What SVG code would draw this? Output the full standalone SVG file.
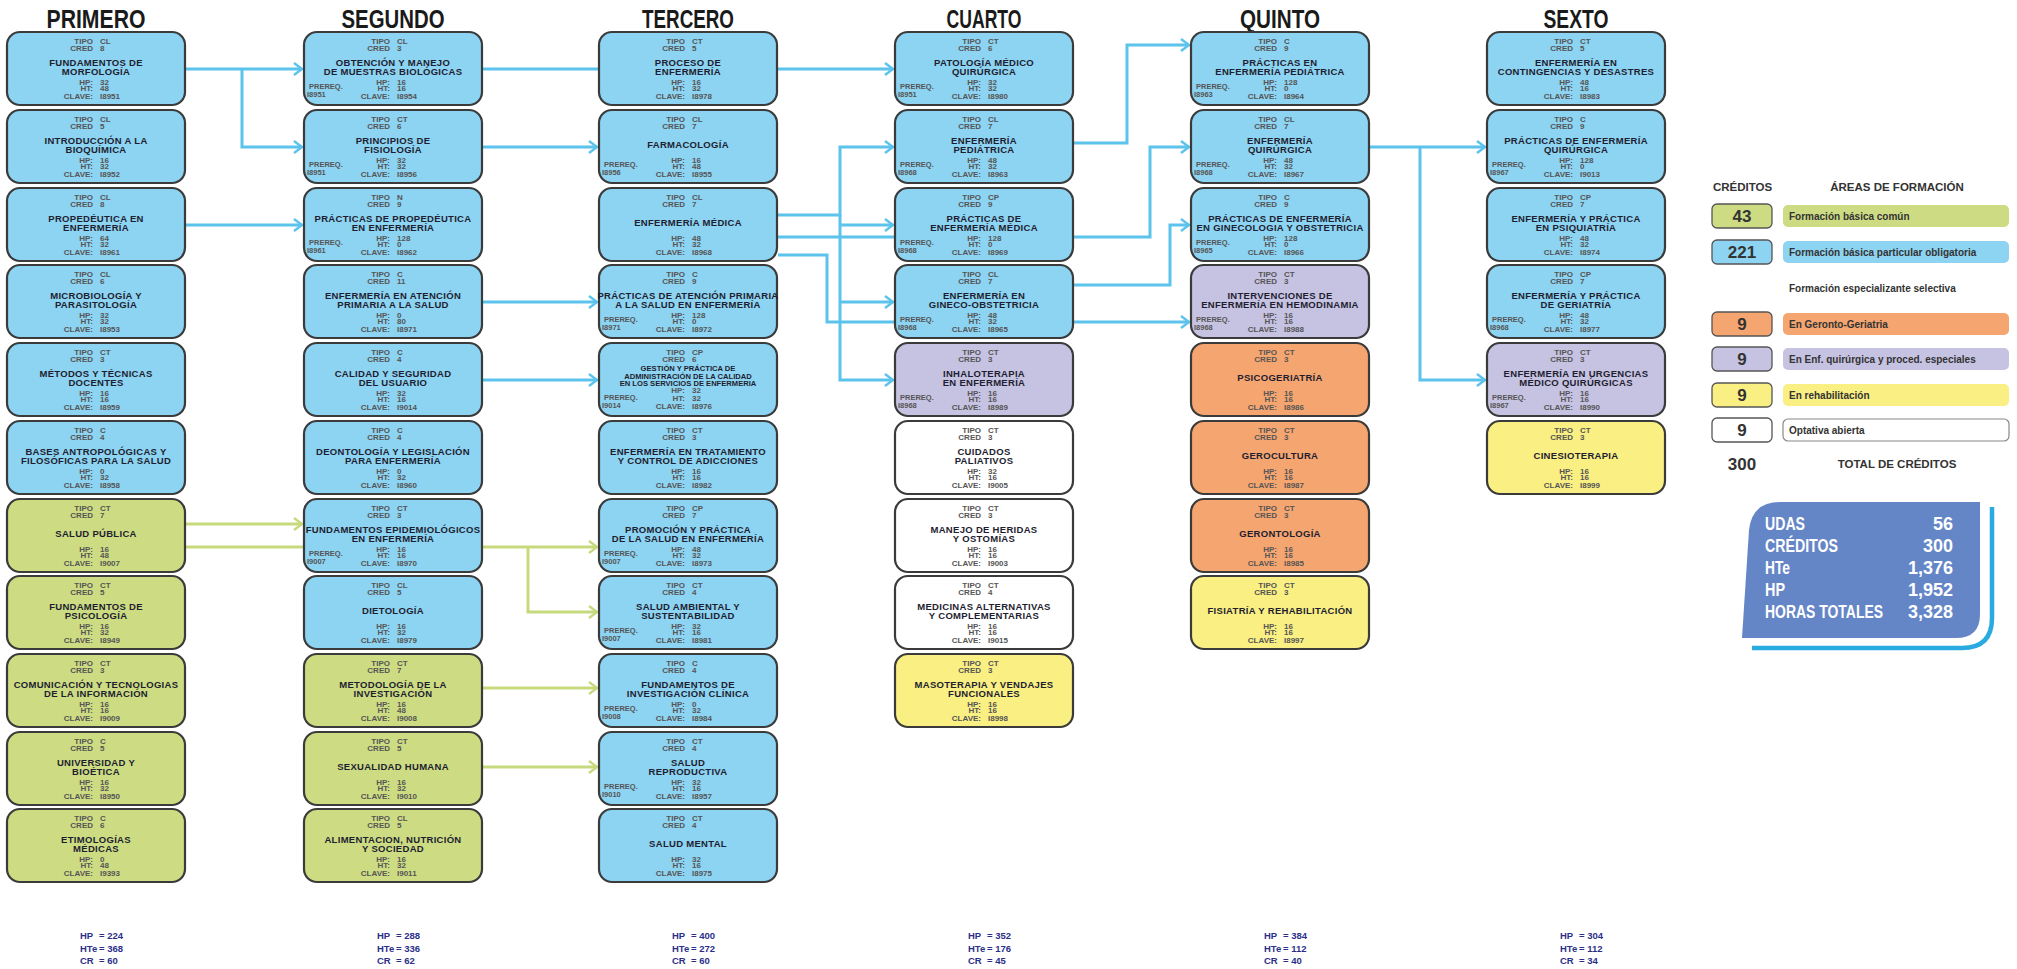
<svg xmlns="http://www.w3.org/2000/svg" width="2017" height="969" viewBox="0 0 2017 969">
<defs>
<style>
.b{stroke:#3b3b3b;stroke-width:2.2}
.bl{fill:#8dd3f2}.gr{fill:#cddc83}.pu{fill:#c6c2e2}.or{fill:#f5a570}.ye{fill:#f9ef83}.wh{fill:#ffffff}
text{font-family:"Liberation Sans",Arial,sans-serif;font-weight:bold}
.l{font-size:8px;fill:#555;text-anchor:end}
.v{font-size:8px;fill:#555}
.t{font-size:9.5px;fill:#1e1e30;text-anchor:middle;letter-spacing:.3px}
.ts{font-size:7.6px;fill:#1e1e30;text-anchor:middle}
.p{font-size:7.5px;fill:#555}
.h{font-family:"Liberation Sans Narrow","Liberation Sans",sans-serif;font-size:26px;fill:#1a1a1a;text-anchor:middle}
.cb{fill:none;stroke:#5bc3ec;stroke-width:3}
.cg{fill:none;stroke:#c6da7d;stroke-width:3}
.tot{font-size:9.5px;fill:#2b2f8a}
.lh{font-size:11.5px;fill:#333}
.lc{font-size:17px;fill:#333;text-anchor:middle}
.la{font-size:10px;fill:#333}
.sm{font-size:18px;fill:#fff}
.smv{font-size:18px;fill:#fff;text-anchor:end}
</style>
<marker id="ab" markerWidth="12" markerHeight="14" refX="10" refY="7" orient="auto" markerUnits="userSpaceOnUse"><path d="M2,1 L10,7 L2,13" fill="none" stroke="#5bc3ec" stroke-width="2.4"/></marker>
<marker id="ag" markerWidth="12" markerHeight="14" refX="10" refY="7" orient="auto" markerUnits="userSpaceOnUse"><path d="M2,1 L10,7 L2,13" fill="none" stroke="#c6da7d" stroke-width="2.4"/></marker>
</defs>
<rect width="2017" height="969" fill="#ffffff"/>

<g id="headers">
<text class="h" x="96" y="28" textLength="99" lengthAdjust="spacingAndGlyphs">PRIMERO</text>
<text class="h" x="393" y="28" textLength="103" lengthAdjust="spacingAndGlyphs">SEGUNDO</text>
<text class="h" x="688" y="28" textLength="92" lengthAdjust="spacingAndGlyphs">TERCERO</text>
<text class="h" x="984" y="28" textLength="75" lengthAdjust="spacingAndGlyphs">CUARTO</text>
<text class="h" x="1280" y="28" textLength="80" lengthAdjust="spacingAndGlyphs">QUINTO</text>
<text class="h" x="1576" y="28" textLength="65" lengthAdjust="spacingAndGlyphs">SEXTO</text>
</g>

<g id="connectors">
<path class="cb" marker-end="url(#ab)" d="M185,69 H302"/>
<path class="cb" marker-end="url(#ab)" d="M482,69 H893"/>
<path class="cb" marker-end="url(#ab)" d="M242,69 V147 H302"/>
<path class="cb" marker-end="url(#ab)" d="M185,225 H302"/>
<path class="cb" marker-end="url(#ab)" d="M482,147 H597"/>
<path class="cb" marker-end="url(#ab)" d="M482,302 H597"/>
<path class="cb" marker-end="url(#ab)" d="M482,380 H597"/>
<path class="cb" marker-end="url(#ab)" d="M778,215 H840 V147 H893"/>
<path class="cb" marker-end="url(#ab)" d="M840,215 V380 H893"/>
<path class="cb" marker-end="url(#ab)" d="M840,225 H893"/>
<path class="cb" marker-end="url(#ab)" d="M840,302 H893"/>
<path class="cb" marker-end="url(#ab)" d="M778,237 H1150 V147 H1189"/>
<path class="cb" marker-end="url(#ab)" d="M778,255 H827 V322 H1189"/>
<path class="cb" marker-end="url(#ab)" d="M1073,143 H1127 V45 H1189"/>
<path class="cb" marker-end="url(#ab)" d="M1073,285 H1170 V225 H1189"/>
<path class="cb" marker-end="url(#ab)" d="M1369,147 H1485"/>
<path class="cb" marker-end="url(#ab)" d="M1420,147 V380 H1485"/>
<path class="cg" marker-end="url(#ag)" d="M185,524 H302"/>
<path class="cg" marker-end="url(#ag)" d="M185,547 H597"/>
<path class="cg" marker-end="url(#ag)" d="M528,547 V612 H597"/>
<path class="cg" marker-end="url(#ag)" d="M482,688 H597"/>
<path class="cg" marker-end="url(#ag)" d="M482,767 H597"/>
</g>

<!-- PRIMERO -->
<g id="p0" transform="translate(7,32)"><rect class="b bl" width="178" height="73" rx="13"/>
<text class="l" x="86" y="11.5">TIPO<tspan x="86" y="19">CRED</tspan></text><text class="v" x="93" y="11.5">CL<tspan x="93" y="19">8</tspan></text>
<text class="t" x="89" y="33.5">FUNDAMENTOS DE<tspan x="89" y="43">MORFOLOGÍA</tspan></text>
<text class="l" x="86" y="52.5">HP:<tspan x="86" y="59">HT:</tspan><tspan x="86" y="67">CLAVE:</tspan></text><text class="v" x="93" y="52.5">32<tspan x="93" y="59">48</tspan><tspan x="93" y="67">I8951</tspan></text></g>
<g id="p1" transform="translate(7,110)"><rect class="b bl" width="178" height="73" rx="13"/>
<text class="l" x="86" y="11.5">TIPO<tspan x="86" y="19">CRED</tspan></text><text class="v" x="93" y="11.5">CL<tspan x="93" y="19">5</tspan></text>
<text class="t" x="89" y="33.5">INTRODUCCIÓN A LA<tspan x="89" y="43">BIOQUÍMICA</tspan></text>
<text class="l" x="86" y="52.5">HP:<tspan x="86" y="59">HT:</tspan><tspan x="86" y="67">CLAVE:</tspan></text><text class="v" x="93" y="52.5">16<tspan x="93" y="59">32</tspan><tspan x="93" y="67">I8952</tspan></text></g>
<g id="p2" transform="translate(7,188)"><rect class="b bl" width="178" height="73" rx="13"/>
<text class="l" x="86" y="11.5">TIPO<tspan x="86" y="19">CRED</tspan></text><text class="v" x="93" y="11.5">CL<tspan x="93" y="19">8</tspan></text>
<text class="t" x="89" y="33.5">PROPEDÉUTICA EN<tspan x="89" y="43">ENFERMERÍA</tspan></text>
<text class="l" x="86" y="52.5">HP:<tspan x="86" y="59">HT:</tspan><tspan x="86" y="67">CLAVE:</tspan></text><text class="v" x="93" y="52.5">64<tspan x="93" y="59">32</tspan><tspan x="93" y="67">I8961</tspan></text></g>
<g id="p3" transform="translate(7,265)"><rect class="b bl" width="178" height="73" rx="13"/>
<text class="l" x="86" y="11.5">TIPO<tspan x="86" y="19">CRED</tspan></text><text class="v" x="93" y="11.5">CL<tspan x="93" y="19">6</tspan></text>
<text class="t" x="89" y="33.5">MICROBIOLOGÍA Y<tspan x="89" y="43">PARASITOLOGÍA</tspan></text>
<text class="l" x="86" y="52.5">HP:<tspan x="86" y="59">HT:</tspan><tspan x="86" y="67">CLAVE:</tspan></text><text class="v" x="93" y="52.5">32<tspan x="93" y="59">32</tspan><tspan x="93" y="67">I8953</tspan></text></g>
<g id="p4" transform="translate(7,343)"><rect class="b bl" width="178" height="73" rx="13"/>
<text class="l" x="86" y="11.5">TIPO<tspan x="86" y="19">CRED</tspan></text><text class="v" x="93" y="11.5">CT<tspan x="93" y="19">3</tspan></text>
<text class="t" x="89" y="33.5">MÉTODOS Y TÉCNICAS<tspan x="89" y="43">DOCENTES</tspan></text>
<text class="l" x="86" y="52.5">HP:<tspan x="86" y="59">HT:</tspan><tspan x="86" y="67">CLAVE:</tspan></text><text class="v" x="93" y="52.5">16<tspan x="93" y="59">16</tspan><tspan x="93" y="67">I8959</tspan></text></g>
<g id="p5" transform="translate(7,421)"><rect class="b bl" width="178" height="73" rx="13"/>
<text class="l" x="86" y="11.5">TIPO<tspan x="86" y="19">CRED</tspan></text><text class="v" x="93" y="11.5">C<tspan x="93" y="19">4</tspan></text>
<text class="t" x="89" y="33.5">BASES ANTROPOLÓGICAS Y<tspan x="89" y="43">FILOSÓFICAS PARA LA SALUD</tspan></text>
<text class="l" x="86" y="52.5">HP:<tspan x="86" y="59">HT:</tspan><tspan x="86" y="67">CLAVE:</tspan></text><text class="v" x="93" y="52.5">0<tspan x="93" y="59">32</tspan><tspan x="93" y="67">I8958</tspan></text></g>
<g id="p6" transform="translate(7,499)"><rect class="b gr" width="178" height="73" rx="13"/>
<text class="l" x="86" y="11.5">TIPO<tspan x="86" y="19">CRED</tspan></text><text class="v" x="93" y="11.5">CT<tspan x="93" y="19">7</tspan></text>
<text class="t" x="89" y="38">SALUD PÚBLICA</text>
<text class="l" x="86" y="52.5">HP:<tspan x="86" y="59">HT:</tspan><tspan x="86" y="67">CLAVE:</tspan></text><text class="v" x="93" y="52.5">16<tspan x="93" y="59">48</tspan><tspan x="93" y="67">I9007</tspan></text></g>
<g id="p7" transform="translate(7,576)"><rect class="b gr" width="178" height="73" rx="13"/>
<text class="l" x="86" y="11.5">TIPO<tspan x="86" y="19">CRED</tspan></text><text class="v" x="93" y="11.5">CT<tspan x="93" y="19">5</tspan></text>
<text class="t" x="89" y="33.5">FUNDAMENTOS DE<tspan x="89" y="43">PSICOLOGÍA</tspan></text>
<text class="l" x="86" y="52.5">HP:<tspan x="86" y="59">HT:</tspan><tspan x="86" y="67">CLAVE:</tspan></text><text class="v" x="93" y="52.5">16<tspan x="93" y="59">32</tspan><tspan x="93" y="67">I8949</tspan></text></g>
<g id="p8" transform="translate(7,654)"><rect class="b gr" width="178" height="73" rx="13"/>
<text class="l" x="86" y="11.5">TIPO<tspan x="86" y="19">CRED</tspan></text><text class="v" x="93" y="11.5">CT<tspan x="93" y="19">3</tspan></text>
<text class="t" x="89" y="33.5">COMUNICACIÓN Y TECNOLOGIAS<tspan x="89" y="43">DE LA INFORMACIÓN</tspan></text>
<text class="l" x="86" y="52.5">HP:<tspan x="86" y="59">HT:</tspan><tspan x="86" y="67">CLAVE:</tspan></text><text class="v" x="93" y="52.5">16<tspan x="93" y="59">16</tspan><tspan x="93" y="67">I9009</tspan></text></g>
<g id="p9" transform="translate(7,732)"><rect class="b gr" width="178" height="73" rx="13"/>
<text class="l" x="86" y="11.5">TIPO<tspan x="86" y="19">CRED</tspan></text><text class="v" x="93" y="11.5">C<tspan x="93" y="19">5</tspan></text>
<text class="t" x="89" y="33.5">UNIVERSIDAD Y<tspan x="89" y="43">BIOÉTICA</tspan></text>
<text class="l" x="86" y="52.5">HP:<tspan x="86" y="59">HT:</tspan><tspan x="86" y="67">CLAVE:</tspan></text><text class="v" x="93" y="52.5">16<tspan x="93" y="59">32</tspan><tspan x="93" y="67">I8950</tspan></text></g>
<g id="p10" transform="translate(7,809)"><rect class="b gr" width="178" height="73" rx="13"/>
<text class="l" x="86" y="11.5">TIPO<tspan x="86" y="19">CRED</tspan></text><text class="v" x="93" y="11.5">C<tspan x="93" y="19">6</tspan></text>
<text class="t" x="89" y="33.5">ETIMOLOGÍAS<tspan x="89" y="43">MÉDICAS</tspan></text>
<text class="l" x="86" y="52.5">HP:<tspan x="86" y="59">HT:</tspan><tspan x="86" y="67">CLAVE:</tspan></text><text class="v" x="93" y="52.5">0<tspan x="93" y="59">48</tspan><tspan x="93" y="67">I9393</tspan></text></g>

<!-- SEGUNDO -->
<g id="s0" transform="translate(304,32)"><rect class="b bl" width="178" height="73" rx="13"/>
<text class="l" x="86" y="11.5">TIPO<tspan x="86" y="19">CRED</tspan></text><text class="v" x="93" y="11.5">CL<tspan x="93" y="19">3</tspan></text>
<text class="t" x="89" y="33.5">OBTENCIÓN Y MANEJO<tspan x="89" y="43">DE MUESTRAS BIOLÓGICAS</tspan></text>
<text class="p" x="5" y="57">PREREQ.<tspan x="3" y="64.5">I8951</tspan></text>
<text class="l" x="86" y="52.5">HP:<tspan x="86" y="59">HT:</tspan><tspan x="86" y="67">CLAVE:</tspan></text><text class="v" x="93" y="52.5">16<tspan x="93" y="59">16</tspan><tspan x="93" y="67">I8954</tspan></text></g>
<g id="s1" transform="translate(304,110)"><rect class="b bl" width="178" height="73" rx="13"/>
<text class="l" x="86" y="11.5">TIPO<tspan x="86" y="19">CRED</tspan></text><text class="v" x="93" y="11.5">CT<tspan x="93" y="19">6</tspan></text>
<text class="t" x="89" y="33.5">PRINCIPIOS DE<tspan x="89" y="43">FISIOLOGÍA</tspan></text>
<text class="p" x="5" y="57">PREREQ.<tspan x="3" y="64.5">I8951</tspan></text>
<text class="l" x="86" y="52.5">HP:<tspan x="86" y="59">HT:</tspan><tspan x="86" y="67">CLAVE:</tspan></text><text class="v" x="93" y="52.5">32<tspan x="93" y="59">32</tspan><tspan x="93" y="67">I8956</tspan></text></g>
<g id="s2" transform="translate(304,188)"><rect class="b bl" width="178" height="73" rx="13"/>
<text class="l" x="86" y="11.5">TIPO<tspan x="86" y="19">CRED</tspan></text><text class="v" x="93" y="11.5">N<tspan x="93" y="19">9</tspan></text>
<text class="t" x="89" y="33.5">PRÁCTICAS DE PROPEDÉUTICA<tspan x="89" y="43">EN ENFERMERÍA</tspan></text>
<text class="p" x="5" y="57">PREREQ.<tspan x="3" y="64.5">I8961</tspan></text>
<text class="l" x="86" y="52.5">HP:<tspan x="86" y="59">HT:</tspan><tspan x="86" y="67">CLAVE:</tspan></text><text class="v" x="93" y="52.5">128<tspan x="93" y="59">0</tspan><tspan x="93" y="67">I8962</tspan></text></g>
<g id="s3" transform="translate(304,265)"><rect class="b bl" width="178" height="73" rx="13"/>
<text class="l" x="86" y="11.5">TIPO<tspan x="86" y="19">CRED</tspan></text><text class="v" x="93" y="11.5">C<tspan x="93" y="19">11</tspan></text>
<text class="t" x="89" y="33.5">ENFERMERÍA EN ATENCIÓN<tspan x="89" y="43">PRIMARIA A LA SALUD</tspan></text>
<text class="l" x="86" y="52.5">HP:<tspan x="86" y="59">HT:</tspan><tspan x="86" y="67">CLAVE:</tspan></text><text class="v" x="93" y="52.5">0<tspan x="93" y="59">80</tspan><tspan x="93" y="67">I8971</tspan></text></g>
<g id="s4" transform="translate(304,343)"><rect class="b bl" width="178" height="73" rx="13"/>
<text class="l" x="86" y="11.5">TIPO<tspan x="86" y="19">CRED</tspan></text><text class="v" x="93" y="11.5">C<tspan x="93" y="19">4</tspan></text>
<text class="t" x="89" y="33.5">CALIDAD Y SEGURIDAD<tspan x="89" y="43">DEL USUARIO</tspan></text>
<text class="l" x="86" y="52.5">HP:<tspan x="86" y="59">HT:</tspan><tspan x="86" y="67">CLAVE:</tspan></text><text class="v" x="93" y="52.5">32<tspan x="93" y="59">16</tspan><tspan x="93" y="67">I9014</tspan></text></g>
<g id="s5" transform="translate(304,421)"><rect class="b bl" width="178" height="73" rx="13"/>
<text class="l" x="86" y="11.5">TIPO<tspan x="86" y="19">CRED</tspan></text><text class="v" x="93" y="11.5">C<tspan x="93" y="19">4</tspan></text>
<text class="t" x="89" y="33.5">DEONTOLOGÍA Y LEGISLACIÓN<tspan x="89" y="43">PARA ENFERMERÍA</tspan></text>
<text class="l" x="86" y="52.5">HP:<tspan x="86" y="59">HT:</tspan><tspan x="86" y="67">CLAVE:</tspan></text><text class="v" x="93" y="52.5">0<tspan x="93" y="59">32</tspan><tspan x="93" y="67">I8960</tspan></text></g>
<g id="s6" transform="translate(304,499)"><rect class="b bl" width="178" height="73" rx="13"/>
<text class="l" x="86" y="11.5">TIPO<tspan x="86" y="19">CRED</tspan></text><text class="v" x="93" y="11.5">CT<tspan x="93" y="19">3</tspan></text>
<text class="t" x="89" y="33.5">FUNDAMENTOS EPIDEMIOLÓGICOS<tspan x="89" y="43">EN ENFERMERÍA</tspan></text>
<text class="p" x="5" y="57">PREREQ.<tspan x="3" y="64.5">I9007</tspan></text>
<text class="l" x="86" y="52.5">HP:<tspan x="86" y="59">HT:</tspan><tspan x="86" y="67">CLAVE:</tspan></text><text class="v" x="93" y="52.5">16<tspan x="93" y="59">16</tspan><tspan x="93" y="67">I8970</tspan></text></g>
<g id="s7" transform="translate(304,576)"><rect class="b bl" width="178" height="73" rx="13"/>
<text class="l" x="86" y="11.5">TIPO<tspan x="86" y="19">CRED</tspan></text><text class="v" x="93" y="11.5">CL<tspan x="93" y="19">5</tspan></text>
<text class="t" x="89" y="38">DIETOLOGÍA</text>
<text class="l" x="86" y="52.5">HP:<tspan x="86" y="59">HT:</tspan><tspan x="86" y="67">CLAVE:</tspan></text><text class="v" x="93" y="52.5">16<tspan x="93" y="59">32</tspan><tspan x="93" y="67">I8979</tspan></text></g>
<g id="s8" transform="translate(304,654)"><rect class="b gr" width="178" height="73" rx="13"/>
<text class="l" x="86" y="11.5">TIPO<tspan x="86" y="19">CRED</tspan></text><text class="v" x="93" y="11.5">CT<tspan x="93" y="19">7</tspan></text>
<text class="t" x="89" y="33.5">METODOLOGÍA DE LA<tspan x="89" y="43">INVESTIGACIÓN</tspan></text>
<text class="l" x="86" y="52.5">HP:<tspan x="86" y="59">HT:</tspan><tspan x="86" y="67">CLAVE:</tspan></text><text class="v" x="93" y="52.5">16<tspan x="93" y="59">48</tspan><tspan x="93" y="67">I9008</tspan></text></g>
<g id="s9" transform="translate(304,732)"><rect class="b gr" width="178" height="73" rx="13"/>
<text class="l" x="86" y="11.5">TIPO<tspan x="86" y="19">CRED</tspan></text><text class="v" x="93" y="11.5">CT<tspan x="93" y="19">5</tspan></text>
<text class="t" x="89" y="38">SEXUALIDAD HUMANA</text>
<text class="l" x="86" y="52.5">HP:<tspan x="86" y="59">HT:</tspan><tspan x="86" y="67">CLAVE:</tspan></text><text class="v" x="93" y="52.5">16<tspan x="93" y="59">32</tspan><tspan x="93" y="67">I9010</tspan></text></g>
<g id="s10" transform="translate(304,809)"><rect class="b gr" width="178" height="73" rx="13"/>
<text class="l" x="86" y="11.5">TIPO<tspan x="86" y="19">CRED</tspan></text><text class="v" x="93" y="11.5">CL<tspan x="93" y="19">5</tspan></text>
<text class="t" x="89" y="33.5">ALIMENTACION, NUTRICIÓN<tspan x="89" y="43">Y SOCIEDAD</tspan></text>
<text class="l" x="86" y="52.5">HP:<tspan x="86" y="59">HT:</tspan><tspan x="86" y="67">CLAVE:</tspan></text><text class="v" x="93" y="52.5">16<tspan x="93" y="59">32</tspan><tspan x="93" y="67">I9011</tspan></text></g>

<!-- TERCERO -->
<g id="t0" transform="translate(599,32)"><rect class="b bl" width="178" height="73" rx="13"/>
<text class="l" x="86" y="11.5">TIPO<tspan x="86" y="19">CRED</tspan></text><text class="v" x="93" y="11.5">CT<tspan x="93" y="19">5</tspan></text>
<text class="t" x="89" y="33.5">PROCESO DE<tspan x="89" y="43">ENFERMERÍA</tspan></text>
<text class="l" x="86" y="52.5">HP:<tspan x="86" y="59">HT:</tspan><tspan x="86" y="67">CLAVE:</tspan></text><text class="v" x="93" y="52.5">16<tspan x="93" y="59">32</tspan><tspan x="93" y="67">I8978</tspan></text></g>
<g id="t1" transform="translate(599,110)"><rect class="b bl" width="178" height="73" rx="13"/>
<text class="l" x="86" y="11.5">TIPO<tspan x="86" y="19">CRED</tspan></text><text class="v" x="93" y="11.5">CL<tspan x="93" y="19">7</tspan></text>
<text class="t" x="89" y="38">FARMACOLOGÍA</text>
<text class="p" x="5" y="57">PREREQ.<tspan x="3" y="64.5">I8956</tspan></text>
<text class="l" x="86" y="52.5">HP:<tspan x="86" y="59">HT:</tspan><tspan x="86" y="67">CLAVE:</tspan></text><text class="v" x="93" y="52.5">16<tspan x="93" y="59">48</tspan><tspan x="93" y="67">I8955</tspan></text></g>
<g id="t2" transform="translate(599,188)"><rect class="b bl" width="178" height="73" rx="13"/>
<text class="l" x="86" y="11.5">TIPO<tspan x="86" y="19">CRED</tspan></text><text class="v" x="93" y="11.5">CL<tspan x="93" y="19">7</tspan></text>
<text class="t" x="89" y="38">ENFERMERÍA MÉDICA</text>
<text class="l" x="86" y="52.5">HP:<tspan x="86" y="59">HT:</tspan><tspan x="86" y="67">CLAVE:</tspan></text><text class="v" x="93" y="52.5">48<tspan x="93" y="59">32</tspan><tspan x="93" y="67">I8968</tspan></text></g>
<g id="t3" transform="translate(599,265)"><rect class="b bl" width="178" height="73" rx="13"/>
<text class="l" x="86" y="11.5">TIPO<tspan x="86" y="19">CRED</tspan></text><text class="v" x="93" y="11.5">C<tspan x="93" y="19">9</tspan></text>
<text class="t" x="89" y="33.5">PRÁCTICAS DE ATENCIÓN PRIMARIA<tspan x="89" y="43">A LA SALUD EN ENFERMERÍA</tspan></text>
<text class="p" x="5" y="57">PREREQ.<tspan x="3" y="64.5">I8971</tspan></text>
<text class="l" x="86" y="52.5">HP:<tspan x="86" y="59">HT:</tspan><tspan x="86" y="67">CLAVE:</tspan></text><text class="v" x="93" y="52.5">128<tspan x="93" y="59">0</tspan><tspan x="93" y="67">I8972</tspan></text></g>
<g id="t4" transform="translate(599,343)"><rect class="b bl" width="178" height="73" rx="13"/>
<text class="l" x="86" y="11.5">TIPO<tspan x="86" y="19">CRED</tspan></text><text class="v" x="93" y="11.5">CP<tspan x="93" y="19">6</tspan></text>
<text class="ts" x="89" y="28">GESTIÓN Y PRÁCTICA DE<tspan x="89" y="35.5">ADMINISTRACIÓN DE LA CALIDAD</tspan><tspan x="89" y="43">EN LOS SERVICIOS DE ENFERMERIA</tspan></text>
<text class="p" x="5" y="57">PREREQ.<tspan x="3" y="64.5">I9014</tspan></text>
<text class="l" x="86" y="50">HP:<tspan x="86" y="57.5">HT:</tspan><tspan x="86" y="66">CLAVE:</tspan></text><text class="v" x="93" y="50">32<tspan x="93" y="57.5">32</tspan><tspan x="93" y="66">I8976</tspan></text></g>
<g id="t5" transform="translate(599,421)"><rect class="b bl" width="178" height="73" rx="13"/>
<text class="l" x="86" y="11.5">TIPO<tspan x="86" y="19">CRED</tspan></text><text class="v" x="93" y="11.5">CT<tspan x="93" y="19">3</tspan></text>
<text class="t" x="89" y="33.5">ENFERMERÍA EN TRATAMIENTO<tspan x="89" y="43">Y CONTROL DE ADICCIONES</tspan></text>
<text class="l" x="86" y="52.5">HP:<tspan x="86" y="59">HT:</tspan><tspan x="86" y="67">CLAVE:</tspan></text><text class="v" x="93" y="52.5">16<tspan x="93" y="59">16</tspan><tspan x="93" y="67">I8982</tspan></text></g>
<g id="t6" transform="translate(599,499)"><rect class="b bl" width="178" height="73" rx="13"/>
<text class="l" x="86" y="11.5">TIPO<tspan x="86" y="19">CRED</tspan></text><text class="v" x="93" y="11.5">CP<tspan x="93" y="19">7</tspan></text>
<text class="t" x="89" y="33.5">PROMOCIÓN Y PRÁCTICA<tspan x="89" y="43">DE LA SALUD EN ENFERMERÍA</tspan></text>
<text class="p" x="5" y="57">PREREQ.<tspan x="3" y="64.5">I9007</tspan></text>
<text class="l" x="86" y="52.5">HP:<tspan x="86" y="59">HT:</tspan><tspan x="86" y="67">CLAVE:</tspan></text><text class="v" x="93" y="52.5">48<tspan x="93" y="59">32</tspan><tspan x="93" y="67">I8973</tspan></text></g>
<g id="t7" transform="translate(599,576)"><rect class="b bl" width="178" height="73" rx="13"/>
<text class="l" x="86" y="11.5">TIPO<tspan x="86" y="19">CRED</tspan></text><text class="v" x="93" y="11.5">CT<tspan x="93" y="19">4</tspan></text>
<text class="t" x="89" y="33.5">SALUD AMBIENTAL Y<tspan x="89" y="43">SUSTENTABILIDAD</tspan></text>
<text class="p" x="5" y="57">PREREQ.<tspan x="3" y="64.5">I9007</tspan></text>
<text class="l" x="86" y="52.5">HP:<tspan x="86" y="59">HT:</tspan><tspan x="86" y="67">CLAVE:</tspan></text><text class="v" x="93" y="52.5">32<tspan x="93" y="59">16</tspan><tspan x="93" y="67">I8981</tspan></text></g>
<g id="t8" transform="translate(599,654)"><rect class="b bl" width="178" height="73" rx="13"/>
<text class="l" x="86" y="11.5">TIPO<tspan x="86" y="19">CRED</tspan></text><text class="v" x="93" y="11.5">C<tspan x="93" y="19">4</tspan></text>
<text class="t" x="89" y="33.5">FUNDAMENTOS DE<tspan x="89" y="43">INVESTIGACIÓN CLÍNICA</tspan></text>
<text class="p" x="5" y="57">PREREQ.<tspan x="3" y="64.5">I9008</tspan></text>
<text class="l" x="86" y="52.5">HP:<tspan x="86" y="59">HT:</tspan><tspan x="86" y="67">CLAVE:</tspan></text><text class="v" x="93" y="52.5">0<tspan x="93" y="59">32</tspan><tspan x="93" y="67">I8984</tspan></text></g>
<g id="t9" transform="translate(599,732)"><rect class="b bl" width="178" height="73" rx="13"/>
<text class="l" x="86" y="11.5">TIPO<tspan x="86" y="19">CRED</tspan></text><text class="v" x="93" y="11.5">CT<tspan x="93" y="19">4</tspan></text>
<text class="t" x="89" y="33.5">SALUD<tspan x="89" y="43">REPRODUCTIVA</tspan></text>
<text class="p" x="5" y="57">PREREQ.<tspan x="3" y="64.5">I9010</tspan></text>
<text class="l" x="86" y="52.5">HP:<tspan x="86" y="59">HT:</tspan><tspan x="86" y="67">CLAVE:</tspan></text><text class="v" x="93" y="52.5">32<tspan x="93" y="59">16</tspan><tspan x="93" y="67">I8957</tspan></text></g>
<g id="t10" transform="translate(599,809)"><rect class="b bl" width="178" height="73" rx="13"/>
<text class="l" x="86" y="11.5">TIPO<tspan x="86" y="19">CRED</tspan></text><text class="v" x="93" y="11.5">CT<tspan x="93" y="19">4</tspan></text>
<text class="t" x="89" y="38">SALUD MENTAL</text>
<text class="l" x="86" y="52.5">HP:<tspan x="86" y="59">HT:</tspan><tspan x="86" y="67">CLAVE:</tspan></text><text class="v" x="93" y="52.5">32<tspan x="93" y="59">16</tspan><tspan x="93" y="67">I8975</tspan></text></g>

<!-- CUARTO -->
<g id="c0" transform="translate(895,32)"><rect class="b bl" width="178" height="73" rx="13"/>
<text class="l" x="86" y="11.5">TIPO<tspan x="86" y="19">CRED</tspan></text><text class="v" x="93" y="11.5">CT<tspan x="93" y="19">6</tspan></text>
<text class="t" x="89" y="33.5">PATOLOGÍA MÉDICO<tspan x="89" y="43">QUIRÚRGICA</tspan></text>
<text class="p" x="5" y="57">PREREQ.<tspan x="3" y="64.5">I8951</tspan></text>
<text class="l" x="86" y="52.5">HP:<tspan x="86" y="59">HT:</tspan><tspan x="86" y="67">CLAVE:</tspan></text><text class="v" x="93" y="52.5">32<tspan x="93" y="59">32</tspan><tspan x="93" y="67">I8980</tspan></text></g>
<g id="c1" transform="translate(895,110)"><rect class="b bl" width="178" height="73" rx="13"/>
<text class="l" x="86" y="11.5">TIPO<tspan x="86" y="19">CRED</tspan></text><text class="v" x="93" y="11.5">CL<tspan x="93" y="19">7</tspan></text>
<text class="t" x="89" y="33.5">ENFERMERÍA<tspan x="89" y="43">PEDIÁTRICA</tspan></text>
<text class="p" x="5" y="57">PREREQ.<tspan x="3" y="64.5">I8968</tspan></text>
<text class="l" x="86" y="52.5">HP:<tspan x="86" y="59">HT:</tspan><tspan x="86" y="67">CLAVE:</tspan></text><text class="v" x="93" y="52.5">48<tspan x="93" y="59">32</tspan><tspan x="93" y="67">I8963</tspan></text></g>
<g id="c2" transform="translate(895,188)"><rect class="b bl" width="178" height="73" rx="13"/>
<text class="l" x="86" y="11.5">TIPO<tspan x="86" y="19">CRED</tspan></text><text class="v" x="93" y="11.5">CP<tspan x="93" y="19">9</tspan></text>
<text class="t" x="89" y="33.5">PRÁCTICAS DE<tspan x="89" y="43">ENFERMERÍA MÉDICA</tspan></text>
<text class="p" x="5" y="57">PREREQ.<tspan x="3" y="64.5">I8968</tspan></text>
<text class="l" x="86" y="52.5">HP:<tspan x="86" y="59">HT:</tspan><tspan x="86" y="67">CLAVE:</tspan></text><text class="v" x="93" y="52.5">128<tspan x="93" y="59">0</tspan><tspan x="93" y="67">I8969</tspan></text></g>
<g id="c3" transform="translate(895,265)"><rect class="b bl" width="178" height="73" rx="13"/>
<text class="l" x="86" y="11.5">TIPO<tspan x="86" y="19">CRED</tspan></text><text class="v" x="93" y="11.5">CL<tspan x="93" y="19">7</tspan></text>
<text class="t" x="89" y="33.5">ENFERMERÍA EN<tspan x="89" y="43">GINECO-OBSTETRICIA</tspan></text>
<text class="p" x="5" y="57">PREREQ.<tspan x="3" y="64.5">I8968</tspan></text>
<text class="l" x="86" y="52.5">HP:<tspan x="86" y="59">HT:</tspan><tspan x="86" y="67">CLAVE:</tspan></text><text class="v" x="93" y="52.5">48<tspan x="93" y="59">32</tspan><tspan x="93" y="67">I8965</tspan></text></g>
<g id="c4" transform="translate(895,343)"><rect class="b pu" width="178" height="73" rx="13"/>
<text class="l" x="86" y="11.5">TIPO<tspan x="86" y="19">CRED</tspan></text><text class="v" x="93" y="11.5">CT<tspan x="93" y="19">3</tspan></text>
<text class="t" x="89" y="33.5">INHALOTERAPIA<tspan x="89" y="43">EN ENFERMERÍA</tspan></text>
<text class="p" x="5" y="57">PREREQ.<tspan x="3" y="64.5">I8968</tspan></text>
<text class="l" x="86" y="52.5">HP:<tspan x="86" y="59">HT:</tspan><tspan x="86" y="67">CLAVE:</tspan></text><text class="v" x="93" y="52.5">16<tspan x="93" y="59">16</tspan><tspan x="93" y="67">I8989</tspan></text></g>
<g id="c5" transform="translate(895,421)"><rect class="b wh" width="178" height="73" rx="13"/>
<text class="l" x="86" y="11.5">TIPO<tspan x="86" y="19">CRED</tspan></text><text class="v" x="93" y="11.5">CT<tspan x="93" y="19">3</tspan></text>
<text class="t" x="89" y="33.5">CUIDADOS<tspan x="89" y="43">PALIATIVOS</tspan></text>
<text class="l" x="86" y="52.5">HP:<tspan x="86" y="59">HT:</tspan><tspan x="86" y="67">CLAVE:</tspan></text><text class="v" x="93" y="52.5">32<tspan x="93" y="59">16</tspan><tspan x="93" y="67">I9005</tspan></text></g>
<g id="c6" transform="translate(895,499)"><rect class="b wh" width="178" height="73" rx="13"/>
<text class="l" x="86" y="11.5">TIPO<tspan x="86" y="19">CRED</tspan></text><text class="v" x="93" y="11.5">CT<tspan x="93" y="19">3</tspan></text>
<text class="t" x="89" y="33.5">MANEJO DE HERIDAS<tspan x="89" y="43">Y OSTOMÍAS</tspan></text>
<text class="l" x="86" y="52.5">HP:<tspan x="86" y="59">HT:</tspan><tspan x="86" y="67">CLAVE:</tspan></text><text class="v" x="93" y="52.5">16<tspan x="93" y="59">16</tspan><tspan x="93" y="67">I9003</tspan></text></g>
<g id="c7" transform="translate(895,576)"><rect class="b wh" width="178" height="73" rx="13"/>
<text class="l" x="86" y="11.5">TIPO<tspan x="86" y="19">CRED</tspan></text><text class="v" x="93" y="11.5">CT<tspan x="93" y="19">4</tspan></text>
<text class="t" x="89" y="33.5">MEDICINAS ALTERNATIVAS<tspan x="89" y="43">Y COMPLEMENTARIAS</tspan></text>
<text class="l" x="86" y="52.5">HP:<tspan x="86" y="59">HT:</tspan><tspan x="86" y="67">CLAVE:</tspan></text><text class="v" x="93" y="52.5">16<tspan x="93" y="59">16</tspan><tspan x="93" y="67">I9015</tspan></text></g>
<g id="c8" transform="translate(895,654)"><rect class="b ye" width="178" height="73" rx="13"/>
<text class="l" x="86" y="11.5">TIPO<tspan x="86" y="19">CRED</tspan></text><text class="v" x="93" y="11.5">CT<tspan x="93" y="19">3</tspan></text>
<text class="t" x="89" y="33.5">MASOTERAPIA Y VENDAJES<tspan x="89" y="43">FUNCIONALES</tspan></text>
<text class="l" x="86" y="52.5">HP:<tspan x="86" y="59">HT:</tspan><tspan x="86" y="67">CLAVE:</tspan></text><text class="v" x="93" y="52.5">16<tspan x="93" y="59">16</tspan><tspan x="93" y="67">I8998</tspan></text></g>

<!-- QUINTO -->
<g id="q0" transform="translate(1191,32)"><rect class="b bl" width="178" height="73" rx="13"/>
<text class="l" x="86" y="11.5">TIPO<tspan x="86" y="19">CRED</tspan></text><text class="v" x="93" y="11.5">C<tspan x="93" y="19">9</tspan></text>
<text class="t" x="89" y="33.5">PRÁCTICAS EN<tspan x="89" y="43">ENFERMERÍA PEDIÁTRICA</tspan></text>
<text class="p" x="5" y="57">PREREQ.<tspan x="3" y="64.5">I8963</tspan></text>
<text class="l" x="86" y="52.5">HP:<tspan x="86" y="59">HT:</tspan><tspan x="86" y="67">CLAVE:</tspan></text><text class="v" x="93" y="52.5">128<tspan x="93" y="59">0</tspan><tspan x="93" y="67">I8964</tspan></text></g>
<g id="q1" transform="translate(1191,110)"><rect class="b bl" width="178" height="73" rx="13"/>
<text class="l" x="86" y="11.5">TIPO<tspan x="86" y="19">CRED</tspan></text><text class="v" x="93" y="11.5">CL<tspan x="93" y="19">7</tspan></text>
<text class="t" x="89" y="33.5">ENFERMERÍA<tspan x="89" y="43">QUIRÚRGICA</tspan></text>
<text class="p" x="5" y="57">PREREQ.<tspan x="3" y="64.5">I8968</tspan></text>
<text class="l" x="86" y="52.5">HP:<tspan x="86" y="59">HT:</tspan><tspan x="86" y="67">CLAVE:</tspan></text><text class="v" x="93" y="52.5">48<tspan x="93" y="59">32</tspan><tspan x="93" y="67">I8967</tspan></text></g>
<g id="q2" transform="translate(1191,188)"><rect class="b bl" width="178" height="73" rx="13"/>
<text class="l" x="86" y="11.5">TIPO<tspan x="86" y="19">CRED</tspan></text><text class="v" x="93" y="11.5">C<tspan x="93" y="19">9</tspan></text>
<text class="t" x="89" y="33.5">PRÁCTICAS DE ENFERMERÍA<tspan x="89" y="43">EN GINECOLOGIA Y OBSTETRICIA</tspan></text>
<text class="p" x="5" y="57">PREREQ.<tspan x="3" y="64.5">I8965</tspan></text>
<text class="l" x="86" y="52.5">HP:<tspan x="86" y="59">HT:</tspan><tspan x="86" y="67">CLAVE:</tspan></text><text class="v" x="93" y="52.5">128<tspan x="93" y="59">0</tspan><tspan x="93" y="67">I8966</tspan></text></g>
<g id="q3" transform="translate(1191,265)"><rect class="b pu" width="178" height="73" rx="13"/>
<text class="l" x="86" y="11.5">TIPO<tspan x="86" y="19">CRED</tspan></text><text class="v" x="93" y="11.5">CT<tspan x="93" y="19">3</tspan></text>
<text class="t" x="89" y="33.5">INTERVENCIONES DE<tspan x="89" y="43">ENFERMERÍA EN HEMODINAMIA</tspan></text>
<text class="p" x="5" y="57">PREREQ.<tspan x="3" y="64.5">I8968</tspan></text>
<text class="l" x="86" y="52.5">HP:<tspan x="86" y="59">HT:</tspan><tspan x="86" y="67">CLAVE:</tspan></text><text class="v" x="93" y="52.5">16<tspan x="93" y="59">16</tspan><tspan x="93" y="67">I8988</tspan></text></g>
<g id="q4" transform="translate(1191,343)"><rect class="b or" width="178" height="73" rx="13"/>
<text class="l" x="86" y="11.5">TIPO<tspan x="86" y="19">CRED</tspan></text><text class="v" x="93" y="11.5">CT<tspan x="93" y="19">3</tspan></text>
<text class="t" x="89" y="38">PSICOGERIATRÍA</text>
<text class="l" x="86" y="52.5">HP:<tspan x="86" y="59">HT:</tspan><tspan x="86" y="67">CLAVE:</tspan></text><text class="v" x="93" y="52.5">16<tspan x="93" y="59">16</tspan><tspan x="93" y="67">I8986</tspan></text></g>
<g id="q5" transform="translate(1191,421)"><rect class="b or" width="178" height="73" rx="13"/>
<text class="l" x="86" y="11.5">TIPO<tspan x="86" y="19">CRED</tspan></text><text class="v" x="93" y="11.5">CT<tspan x="93" y="19">3</tspan></text>
<text class="t" x="89" y="38">GEROCULTURA</text>
<text class="l" x="86" y="52.5">HP:<tspan x="86" y="59">HT:</tspan><tspan x="86" y="67">CLAVE:</tspan></text><text class="v" x="93" y="52.5">16<tspan x="93" y="59">16</tspan><tspan x="93" y="67">I8987</tspan></text></g>
<g id="q6" transform="translate(1191,499)"><rect class="b or" width="178" height="73" rx="13"/>
<text class="l" x="86" y="11.5">TIPO<tspan x="86" y="19">CRED</tspan></text><text class="v" x="93" y="11.5">CT<tspan x="93" y="19">3</tspan></text>
<text class="t" x="89" y="38">GERONTOLOGÍA</text>
<text class="l" x="86" y="52.5">HP:<tspan x="86" y="59">HT:</tspan><tspan x="86" y="67">CLAVE:</tspan></text><text class="v" x="93" y="52.5">16<tspan x="93" y="59">16</tspan><tspan x="93" y="67">I8985</tspan></text></g>
<g id="q7" transform="translate(1191,576)"><rect class="b ye" width="178" height="73" rx="13"/>
<text class="l" x="86" y="11.5">TIPO<tspan x="86" y="19">CRED</tspan></text><text class="v" x="93" y="11.5">CT<tspan x="93" y="19">3</tspan></text>
<text class="t" x="89" y="38">FISIATRÍA Y REHABILITACIÓN</text>
<text class="l" x="86" y="52.5">HP:<tspan x="86" y="59">HT:</tspan><tspan x="86" y="67">CLAVE:</tspan></text><text class="v" x="93" y="52.5">16<tspan x="93" y="59">16</tspan><tspan x="93" y="67">I8997</tspan></text></g>

<!-- SEXTO -->
<g id="x0" transform="translate(1487,32)"><rect class="b bl" width="178" height="73" rx="13"/>
<text class="l" x="86" y="11.5">TIPO<tspan x="86" y="19">CRED</tspan></text><text class="v" x="93" y="11.5">CT<tspan x="93" y="19">5</tspan></text>
<text class="t" x="89" y="33.5">ENFERMERÍA EN<tspan x="89" y="43">CONTINGENCIAS Y DESASTRES</tspan></text>
<text class="l" x="86" y="52.5">HP:<tspan x="86" y="59">HT:</tspan><tspan x="86" y="67">CLAVE:</tspan></text><text class="v" x="93" y="52.5">48<tspan x="93" y="59">16</tspan><tspan x="93" y="67">I8983</tspan></text></g>
<g id="x1" transform="translate(1487,110)"><rect class="b bl" width="178" height="73" rx="13"/>
<text class="l" x="86" y="11.5">TIPO<tspan x="86" y="19">CRED</tspan></text><text class="v" x="93" y="11.5">C<tspan x="93" y="19">9</tspan></text>
<text class="t" x="89" y="33.5">PRÁCTICAS DE ENFERMERÍA<tspan x="89" y="43">QUIRÚRGICA</tspan></text>
<text class="p" x="5" y="57">PREREQ.<tspan x="3" y="64.5">I8967</tspan></text>
<text class="l" x="86" y="52.5">HP:<tspan x="86" y="59">HT:</tspan><tspan x="86" y="67">CLAVE:</tspan></text><text class="v" x="93" y="52.5">128<tspan x="93" y="59">0</tspan><tspan x="93" y="67">I9013</tspan></text></g>
<g id="x2" transform="translate(1487,188)"><rect class="b bl" width="178" height="73" rx="13"/>
<text class="l" x="86" y="11.5">TIPO<tspan x="86" y="19">CRED</tspan></text><text class="v" x="93" y="11.5">CP<tspan x="93" y="19">7</tspan></text>
<text class="t" x="89" y="33.5">ENFERMERÍA Y PRÁCTICA<tspan x="89" y="43">EN PSIQUIATRÍA</tspan></text>
<text class="l" x="86" y="52.5">HP:<tspan x="86" y="59">HT:</tspan><tspan x="86" y="67">CLAVE:</tspan></text><text class="v" x="93" y="52.5">48<tspan x="93" y="59">32</tspan><tspan x="93" y="67">I8974</tspan></text></g>
<g id="x3" transform="translate(1487,265)"><rect class="b bl" width="178" height="73" rx="13"/>
<text class="l" x="86" y="11.5">TIPO<tspan x="86" y="19">CRED</tspan></text><text class="v" x="93" y="11.5">CP<tspan x="93" y="19">7</tspan></text>
<text class="t" x="89" y="33.5">ENFERMERÍA Y PRÁCTICA<tspan x="89" y="43">DE GERIATRÍA</tspan></text>
<text class="p" x="5" y="57">PREREQ.<tspan x="3" y="64.5">I8968</tspan></text>
<text class="l" x="86" y="52.5">HP:<tspan x="86" y="59">HT:</tspan><tspan x="86" y="67">CLAVE:</tspan></text><text class="v" x="93" y="52.5">48<tspan x="93" y="59">32</tspan><tspan x="93" y="67">I8977</tspan></text></g>
<g id="x4" transform="translate(1487,343)"><rect class="b pu" width="178" height="73" rx="13"/>
<text class="l" x="86" y="11.5">TIPO<tspan x="86" y="19">CRED</tspan></text><text class="v" x="93" y="11.5">CT<tspan x="93" y="19">3</tspan></text>
<text class="t" x="89" y="33.5">ENFERMERÍA EN URGENCIAS<tspan x="89" y="43">MÉDICO QUIRÚRGICAS</tspan></text>
<text class="p" x="5" y="57">PREREQ.<tspan x="3" y="64.5">I8967</tspan></text>
<text class="l" x="86" y="52.5">HP:<tspan x="86" y="59">HT:</tspan><tspan x="86" y="67">CLAVE:</tspan></text><text class="v" x="93" y="52.5">16<tspan x="93" y="59">16</tspan><tspan x="93" y="67">I8990</tspan></text></g>
<g id="x5" transform="translate(1487,421)"><rect class="b ye" width="178" height="73" rx="13"/>
<text class="l" x="86" y="11.5">TIPO<tspan x="86" y="19">CRED</tspan></text><text class="v" x="93" y="11.5">CT<tspan x="93" y="19">3</tspan></text>
<text class="t" x="89" y="38">CINESIOTERAPIA</text>
<text class="l" x="86" y="52.5">HP:<tspan x="86" y="59">HT:</tspan><tspan x="86" y="67">CLAVE:</tspan></text><text class="v" x="93" y="52.5">16<tspan x="93" y="59">16</tspan><tspan x="93" y="67">I8999</tspan></text></g>

<g id="totals">
<text class="tot" x="80" y="939">HP<tspan x="80" y="951.5">HTe</tspan><tspan x="80" y="964">CR</tspan></text><text class="tot" x="99" y="939">= 224<tspan x="99" y="951.5">= 368</tspan><tspan x="99" y="964">= 60</tspan></text>
<text class="tot" x="377" y="939">HP<tspan x="377" y="951.5">HTe</tspan><tspan x="377" y="964">CR</tspan></text><text class="tot" x="396" y="939">= 288<tspan x="396" y="951.5">= 336</tspan><tspan x="396" y="964">= 62</tspan></text>
<text class="tot" x="672" y="939">HP<tspan x="672" y="951.5">HTe</tspan><tspan x="672" y="964">CR</tspan></text><text class="tot" x="691" y="939">= 400<tspan x="691" y="951.5">= 272</tspan><tspan x="691" y="964">= 60</tspan></text>
<text class="tot" x="968" y="939">HP<tspan x="968" y="951.5">HTe</tspan><tspan x="968" y="964">CR</tspan></text><text class="tot" x="987" y="939">= 352<tspan x="987" y="951.5">= 176</tspan><tspan x="987" y="964">= 45</tspan></text>
<text class="tot" x="1264" y="939">HP<tspan x="1264" y="951.5">HTe</tspan><tspan x="1264" y="964">CR</tspan></text><text class="tot" x="1283" y="939">= 384<tspan x="1283" y="951.5">= 112</tspan><tspan x="1283" y="964">= 40</tspan></text>
<text class="tot" x="1560" y="939">HP<tspan x="1560" y="951.5">HTe</tspan><tspan x="1560" y="964">CR</tspan></text><text class="tot" x="1579" y="939">= 304<tspan x="1579" y="951.5">= 112</tspan><tspan x="1579" y="964">= 34</tspan></text>
</g>

<g id="legend">
<text class="lh" x="1713" y="191">CRÉDITOS</text>
<text class="lh" x="1897" y="191" text-anchor="middle">ÁREAS DE FORMACIÓN</text>
<rect x="1712" y="204" width="60" height="24" rx="5" fill="#cddc83" stroke="#555" stroke-width="1.3"/>
<text class="lc" x="1742" y="222">43</text>
<rect x="1783" y="205" width="226" height="22" rx="5" fill="#cddc83"/>
<text class="la" x="1789" y="219.5">Formación básica común</text>
<rect x="1712" y="240" width="60" height="24" rx="5" fill="#8dd3f2" stroke="#555" stroke-width="1.3"/>
<text class="lc" x="1742" y="258">221</text>
<rect x="1783" y="241" width="226" height="22" rx="5" fill="#8dd3f2"/>
<text class="la" x="1789" y="255.5">Formación básica particular obligatoria</text>
<text class="la" x="1789" y="291.5">Formación especializante selectiva</text>
<rect x="1712" y="312" width="60" height="24" rx="5" fill="#f5a570" stroke="#555" stroke-width="1.3"/>
<text class="lc" x="1742" y="330">9</text>
<rect x="1783" y="313" width="226" height="22" rx="5" fill="#f5a570"/>
<text class="la" x="1789" y="327.5">En Geronto-Geriatria</text>
<rect x="1712" y="347" width="60" height="24" rx="5" fill="#c6c2e2" stroke="#555" stroke-width="1.3"/>
<text class="lc" x="1742" y="365">9</text>
<rect x="1783" y="348" width="226" height="22" rx="5" fill="#c6c2e2"/>
<text class="la" x="1789" y="362.5">En Enf. quirúrgica y proced. especiales</text>
<rect x="1712" y="383" width="60" height="24" rx="5" fill="#f9ef83" stroke="#555" stroke-width="1.3"/>
<text class="lc" x="1742" y="401">9</text>
<rect x="1783" y="384" width="226" height="22" rx="5" fill="#f9ef83"/>
<text class="la" x="1789" y="398.5">En rehabilitación</text>
<rect x="1712" y="418" width="60" height="24" rx="5" fill="#ffffff" stroke="#555" stroke-width="1.3"/>
<text class="lc" x="1742" y="436">9</text>
<rect x="1783" y="419" width="226" height="22" rx="5" fill="#ffffff" stroke="#888" stroke-width="1.2"/>
<text class="la" x="1789" y="433.5">Optativa abierta</text>
<text class="lc" x="1742" y="470">300</text>
<text class="lh" x="1897" y="468" text-anchor="middle">TOTAL DE CRÉDITOS</text>
</g>

<g id="summary">
<path d="M1742,638 L1749,530 Q1752,502 1780,502 L1980,502 L1980,614 Q1980,638 1956,638 Z" fill="#6586c6"/>
<path d="M1992,507 L1992,618 Q1992,648 1962,648 L1752,648" fill="none" stroke="#29abe2" stroke-width="4.5"/>
<text class="sm" x="1765" y="530" textLength="40" lengthAdjust="spacingAndGlyphs">UDAS</text>
<text class="sm" x="1765" y="552" textLength="73" lengthAdjust="spacingAndGlyphs">CRÉDITOS</text>
<text class="sm" x="1765" y="574" textLength="25" lengthAdjust="spacingAndGlyphs">HTe</text>
<text class="sm" x="1765" y="596" textLength="20" lengthAdjust="spacingAndGlyphs">HP</text>
<text class="sm" x="1765" y="618" textLength="118" lengthAdjust="spacingAndGlyphs">HORAS TOTALES</text>
<text class="smv" x="1953" y="530">56</text>
<text class="smv" x="1953" y="552">300</text>
<text class="smv" x="1953" y="574">1,376</text>
<text class="smv" x="1953" y="596">1,952</text>
<text class="smv" x="1953" y="618">3,328</text>
</g>
</svg>
